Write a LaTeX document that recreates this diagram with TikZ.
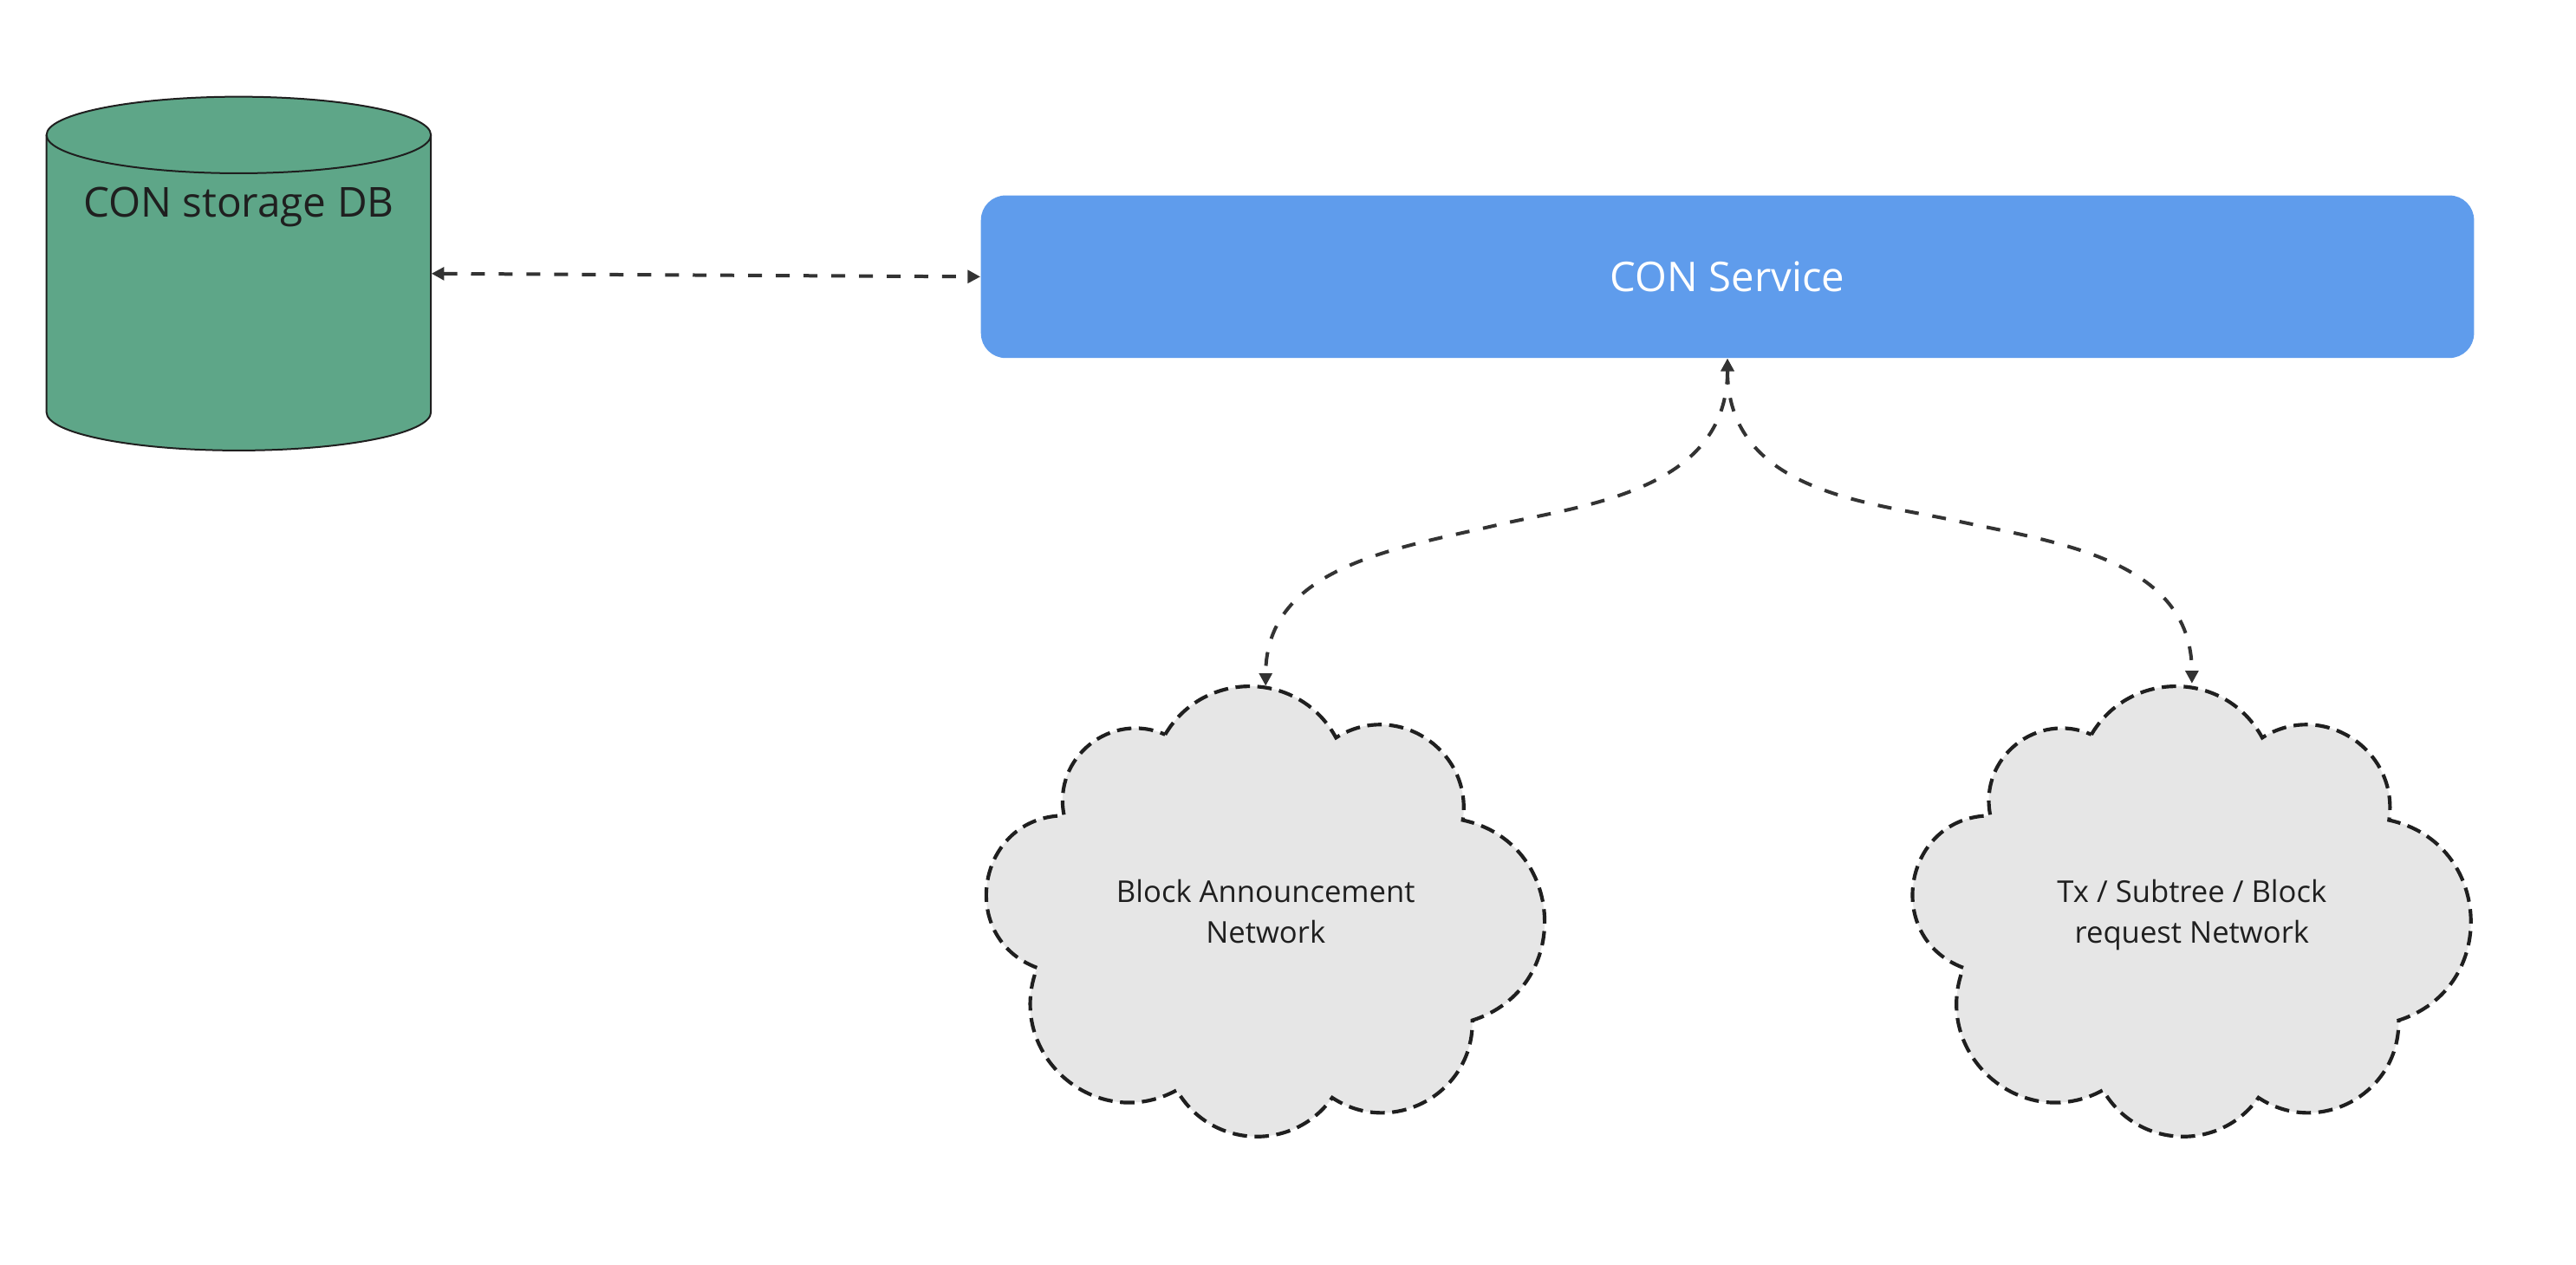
\documentclass[tikz,border=0pt]{standalone}
\usepackage{fontspec}
\setmainfont{Open Sans}
\usetikzlibrary{arrows.meta}
\definecolor{dbgreen}{HTML}{5EA688}
\definecolor{svcblue}{HTML}{5F9CEC}
\definecolor{cloudgray}{HTML}{E6E6E6}
\definecolor{inkdark}{HTML}{1F1F1F}
\definecolor{linkgray}{HTML}{333333}
\tikzset{
  cylbody/.style={fill=dbgreen, draw=inkdark, line width=0.6pt},
  dblabel/.style={text=inkdark, font=\fontsize{14.3}{17}\selectfont, inner sep=0pt},
  svcbox/.style={fill=svcblue, rounded corners=0.3cm, minimum width=18.18cm, minimum height=1.98cm,
    inner sep=0pt, text=white, font=\fontsize{14.2}{17}\selectfont},
  cloudtext/.style={minimum width=6.8cm, minimum height=5.48cm, inner sep=0pt, align=center,
    text=inkdark, font=\fontsize{10.4}{14.1}\selectfont},
  cloudline/.style={fill=cloudgray, draw=inkdark, line width=1.25pt, dash pattern=on 5pt off 2.6pt},
  link/.style={draw=linkgray, line width=1.2pt, dash pattern=on 4.8pt off 4.8pt,
    {Triangle[length=4.4pt,width=4.4pt]}-{Triangle[length=4.4pt,width=4.4pt]}},
  cloudpic/.pic={
    \path[cloudline] (108.8,-29.3)
      .. controls (132.4,10.7) and (190.7,9.7) .. (212.8,-31.2)
      .. controls (249.3,-8.0) and (296.3,-38.6) .. (290,-81.4)
      .. controls (353.2,-95.0) and (357.5,-183.7) .. (295.8,-203.3)
      .. controls (296.8,-247.6) and (247.5,-274.9) .. (210.5,-250.4)
      .. controls (186.8,-283.9) and (136.3,-281.4) .. (115.9,-245.8)
      .. controls (66.6,-272.7) and (10.7,-223.6) .. (30.9,-171.3)
      .. controls (-18.6,-152.6) and (-5.6,-79.2) .. (47.3,-78.6)
      .. controls (40.1,-43.3) and (75.9,-14.7) .. (108.8,-29.3) -- cycle;
  }
}
\begin{document}
\begin{tikzpicture}[x=0.02cm, y=0.02cm]
  \useasboundingbox (0,0) rectangle (1568,-770);
  \fill[white] (0,0) rectangle (1568,-770);

  % database cylinder
  \node[minimum width=4.68cm, minimum height=4.308cm, inner sep=0pt] (db) at (145.3,-166.6) {};
  \path[cylbody] (28.3,-82.2) -- (28.3,-251)
    arc[start angle=180, end angle=360, x radius=117, y radius=23.3]
    -- (262.3,-82.2)
    arc[start angle=0, end angle=180, x radius=117, y radius=23.3] -- cycle;
  \draw[draw=inkdark, line width=0.6pt] (28.3,-82.2)
    arc[start angle=180, end angle=360, x radius=117, y radius=23.3];
  \node[dblabel, anchor=base] (dbtext) at (145.3,-132) {CON storage DB};

  % service
  \node[svcbox] (svc) at (1051.5,-168.5) {CON Service};

  % clouds
  \pic at (600.4,-418) {cloudpic};
  \pic at (1164.2,-418) {cloudpic};
  \node[cloudtext] (cloudA) at (770.4,-555) {Block Announcement\\Network};
  \node[cloudtext] (cloudB) at (1334.2,-557) {Tx / Subtree / Block\\request Network};

  % connectors
  \coordinate (mA) at (910,-320);
  \coordinate (mB) at (1190,-317);
  \draw[link] (db.east) -- (svc.west);
  \draw[link] (svc.south) .. controls +(0,-82) and +(50,12) .. (mA)
    .. controls +(-58.4,-13.7) and +(0,73) .. (cloudA.north);
  \draw[link] (svc.south) .. controls +(0,-82) and +(-50,11) .. (mB)
    .. controls +(60,-13) and +(0,76) .. ([yshift=2]cloudB.north);
\end{tikzpicture}
\end{document}
